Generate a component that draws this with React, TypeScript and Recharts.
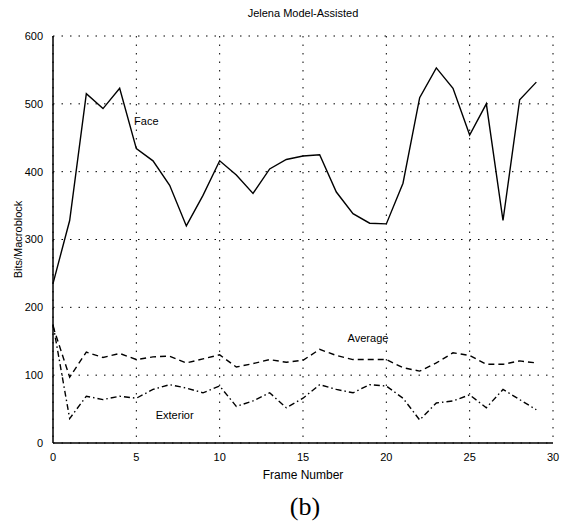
import React from 'react';
import { LineChart, Line, XAxis, YAxis, CartesianGrid, ReferenceDot } from 'recharts';

const frames = [0, 1, 2, 3, 4, 5, 6, 7, 8, 9, 10, 11, 12, 13, 14, 15, 16, 17, 18, 19, 20, 21, 22, 23, 24, 25, 26, 27, 28, 29];
const face = [235, 328, 515, 493, 523, 434, 416, 380, 320, 365, 416, 395, 368, 404, 418, 423, 425, 370, 338, 324, 323, 383, 509, 553, 523, 454, 500, 328, 506, 532];
const average = [172, 97, 134, 126, 132, 123, 127, 128, 118, 124, 130, 112, 117, 123, 119, 122, 138, 129, 123, 123, 123, 111, 106, 118, 133, 129, 116, 116, 121, 118];
const exterior = [175, 36, 69, 64, 69, 66, 79, 86, 81, 74, 84, 54, 62, 74, 52, 66, 86, 79, 74, 86, 84, 66, 34, 59, 62, 71, 52, 79, 64, 49];

const xTicks = [0, 5, 10, 15, 20, 25, 30];
const yTicks = [0, 100, 200, 300, 400, 500, 600];

const FONT = '"Liberation Sans", Arial, sans-serif';

const data = frames.map((f, i) => ({
  frame: f,
  face: face[i],
  average: average[i],
  exterior: exterior[i],
}));

const tickStyle = { fontSize: 11, fill: '#000', fontFamily: FONT };

export default function App() {
  return (
    <div style={{ position: 'absolute', left: 0, top: 0, width: 574, height: 527, background: '#fff' }}>
      <div style={{ position: 'absolute', left: 0, width: 606, top: 7, textAlign: 'center', fontFamily: FONT, fontSize: 11 }}>
        Jelena  Model-Assisted
      </div>
      <LineChart width={574} height={527} data={data} margin={{ top: 36, right: 21, bottom: 46, left: 8 }}>
        <CartesianGrid stroke="#000" strokeDasharray="1.5 7" />
        <XAxis
          dataKey="frame"
          type="number"
          domain={[0, 30]}
          ticks={xTicks}
          tick={tickStyle}
          tickLine={false}
          axisLine={{ stroke: '#000', strokeWidth: 1.5 }}
          tickMargin={4}
          height={38}
          label={{ value: 'Frame Number', position: 'insideBottom', offset: 2, style: { ...tickStyle, fontSize: 12 } }}
        />
        <YAxis
          type="number"
          domain={[0, 600]}
          ticks={yTicks}
          tick={tickStyle}
          tickLine={false}
          axisLine={{ stroke: '#000', strokeWidth: 1.5 }}
          tickMargin={4}
          width={45}
          label={{ value: 'Bits/Macroblock', angle: -90, position: 'insideLeft', offset: 10, style: { ...tickStyle, textAnchor: 'middle' } }}
        />
        <Line dataKey="face" stroke="#000" strokeWidth={1.4} dot={false} isAnimationActive={false} type="linear" />
        <Line dataKey="average" stroke="#000" strokeWidth={1.4} strokeDasharray="6 4" dot={false} isAnimationActive={false} type="linear" />
        <Line dataKey="exterior" stroke="#000" strokeWidth={1.4} strokeDasharray="6 3 1.5 3" dot={false} isAnimationActive={false} type="linear" />
        <ReferenceDot x={5.6} y={475} r={0} stroke="none" label={{ value: 'Face', position: 'center', style: tickStyle }} />
        <ReferenceDot x={18.9} y={155} r={0} stroke="none" label={{ value: 'Average', position: 'center', style: tickStyle }} />
        <ReferenceDot x={7.3} y={41} r={0} stroke="none" label={{ value: 'Exterior', position: 'center', style: tickStyle }} />
      </LineChart>
      <div style={{ position: 'absolute', left: 0, width: 610, top: 492, textAlign: 'center', fontFamily: '"Liberation Serif", "DejaVu Serif", serif', fontSize: 26 }}>
        (b)
      </div>
    </div>
  );
}
